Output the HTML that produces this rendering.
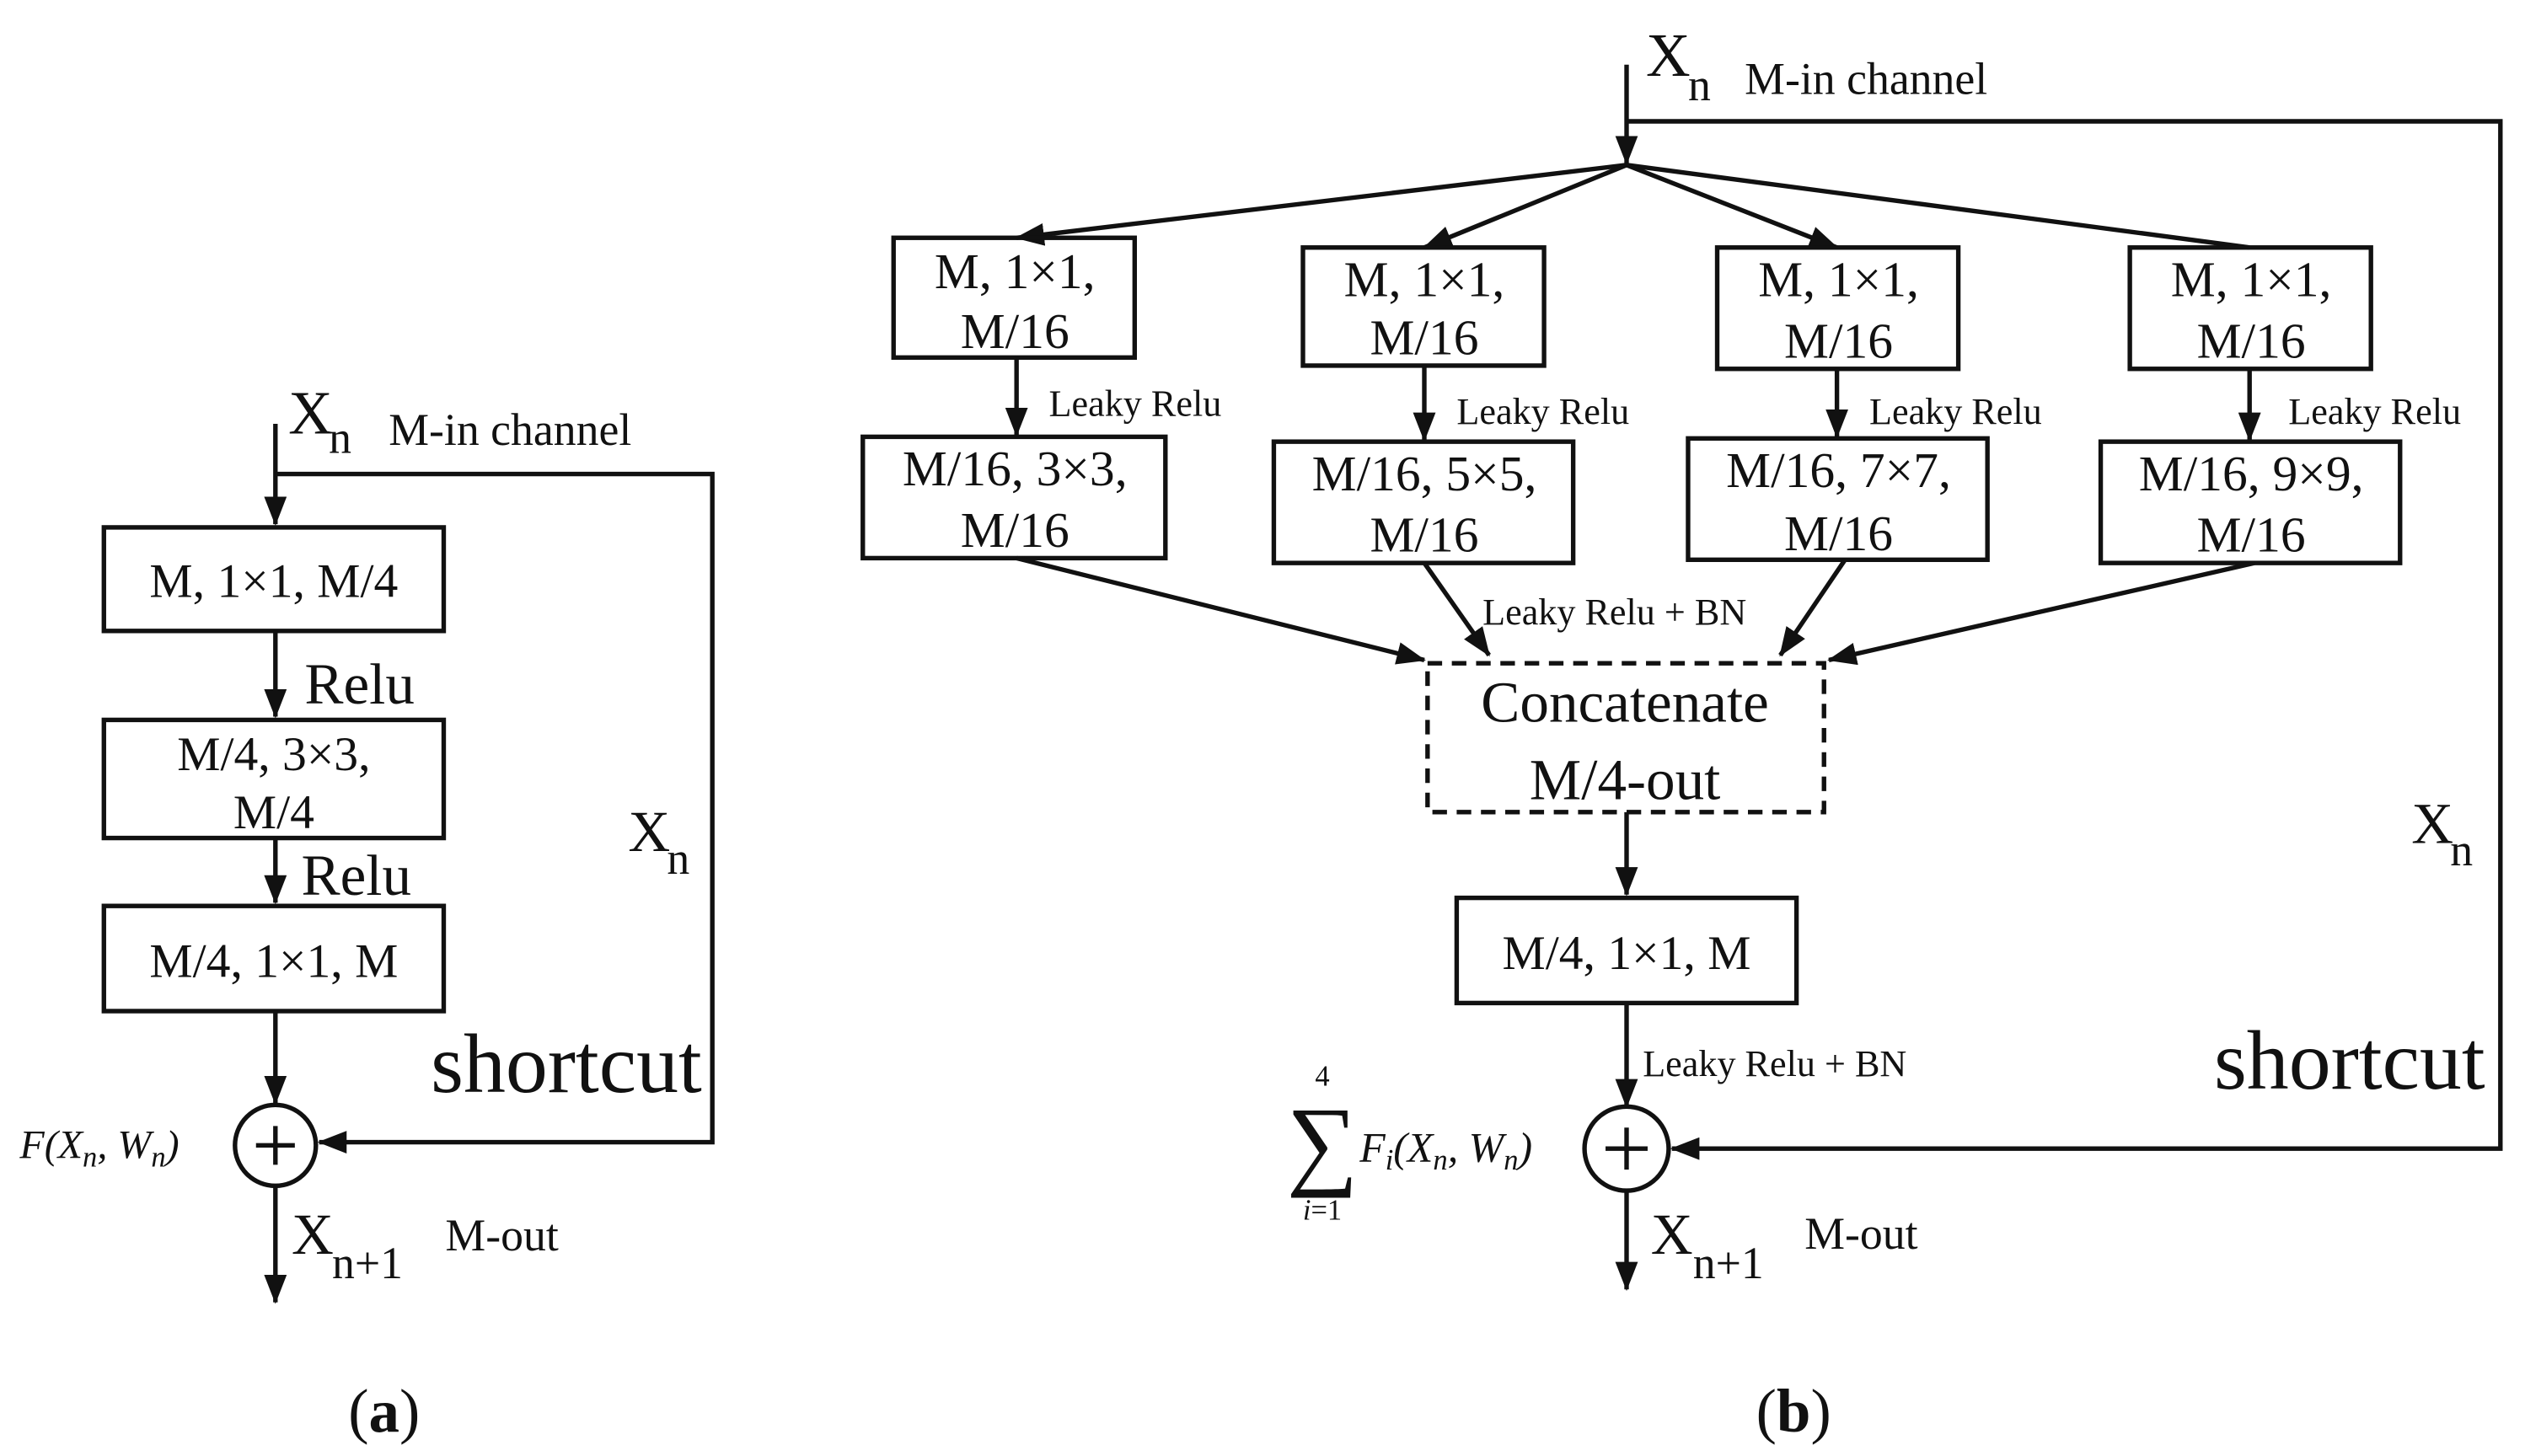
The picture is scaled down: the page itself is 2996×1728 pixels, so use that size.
<!DOCTYPE html>
<html><head><meta charset="utf-8"><style>
html,body{margin:0;padding:0;background:#fff;width:2996px;height:1728px;overflow:hidden}
svg{display:block}
text{font-family:"Liberation Serif","Times New Roman","DejaVu Serif",serif;fill:#111}
</style></head><body>
<svg width="2996" height="1728" viewBox="0 0 1560 900" xmlns="http://www.w3.org/2000/svg" font-family="Liberation Serif, Times New Roman, serif">
<defs>
<marker id="b" markerWidth="18" markerHeight="14" refX="17" refY="7" orient="auto" markerUnits="userSpaceOnUse" viewBox="0 0 18 14">
<path d="M0,0 L18,7 L0,14 z" fill="#111"/></marker>
</defs>
<g stroke="#111" stroke-width="2.8" fill="none">
<!-- panel a -->
<line x1="170" y1="262" x2="170" y2="324" marker-end="url(#b)"/>
<polyline points="170,293 440,293 440,706 197,706" marker-end="url(#b)"/>
<rect x="64" y="326" width="210" height="64"/>
<line x1="170" y1="390" x2="170" y2="443" marker-end="url(#b)"/>
<rect x="64" y="445" width="210" height="73"/>
<line x1="170" y1="518" x2="170" y2="558" marker-end="url(#b)"/>
<rect x="64" y="560" width="210" height="65"/>
<line x1="170" y1="625" x2="170" y2="682" marker-end="url(#b)"/>
<circle cx="170" cy="708" r="25"/>
<line x1="158" y1="708" x2="182" y2="708"/><line x1="170" y1="696" x2="170" y2="720"/>
<line x1="170" y1="733" x2="170" y2="805" marker-end="url(#b)"/>
<!-- panel b -->
<line x1="1005" y1="40" x2="1005" y2="101" marker-end="url(#b)"/>
<polyline points="1005,75 1545,75 1545,710 1033,710" marker-end="url(#b)"/>
<line x1="1005" y1="102" x2="628" y2="147" marker-end="url(#b)"/>
<line x1="1005" y1="102" x2="880" y2="153" marker-end="url(#b)"/>
<line x1="1005" y1="102" x2="1135" y2="153" marker-end="url(#b)"/>
<line x1="1005" y1="102" x2="1390" y2="153"/>
<rect x="552" y="147" width="149" height="74"/>
<rect x="805" y="153" width="149" height="73"/>
<rect x="1061" y="153" width="149" height="75"/>
<rect x="1316" y="153" width="149" height="75"/>
<line x1="628" y1="221" x2="628" y2="269" marker-end="url(#b)"/>
<line x1="880" y1="226" x2="880" y2="272" marker-end="url(#b)"/>
<line x1="1135" y1="228" x2="1135" y2="270" marker-end="url(#b)"/>
<line x1="1390" y1="228" x2="1390" y2="272" marker-end="url(#b)"/>
<rect x="533" y="270" width="187" height="75"/>
<rect x="787" y="273" width="185" height="75"/>
<rect x="1043" y="271" width="185" height="75"/>
<rect x="1298" y="273" width="185" height="75"/>
<line x1="628" y1="345" x2="880" y2="408" marker-end="url(#b)"/>
<line x1="880" y1="348" x2="920" y2="405" marker-end="url(#b)"/>
<line x1="1140" y1="346" x2="1100" y2="405" marker-end="url(#b)"/>
<line x1="1393" y1="348" x2="1130" y2="408" marker-end="url(#b)"/>
<rect x="882" y="410" width="245" height="92" stroke-dasharray="9,6"/>
<line x1="1005" y1="502" x2="1005" y2="553" marker-end="url(#b)"/>
<rect x="900" y="555" width="210" height="65"/>
<line x1="1005" y1="620" x2="1005" y2="684" marker-end="url(#b)"/>
<circle cx="1005" cy="710" r="26"/>
<line x1="992" y1="710" x2="1018" y2="710"/><line x1="1005" y1="697" x2="1005" y2="723"/>
<line x1="1005" y1="736" x2="1005" y2="797" marker-end="url(#b)"/>
</g>
<!-- text panel a -->
<text x="178" y="268" font-size="38">X</text><text x="203" y="280" font-size="28">n</text>
<text x="240" y="275" font-size="28">M-in channel</text>
<text x="169" y="369" font-size="30" text-anchor="middle">M, 1×1, M/4</text>
<text x="188" y="435" font-size="36">Relu</text>
<text x="169" y="476" font-size="30" text-anchor="middle">M/4, 3×3,</text>
<text x="169" y="512" font-size="30" text-anchor="middle">M/4</text>
<text x="186" y="553" font-size="36">Relu</text>
<text x="169" y="604" font-size="30" text-anchor="middle">M/4, 1×1, M</text>
<text x="388" y="526" font-size="36">X</text><text x="412" y="540" font-size="28">n</text>
<text x="266" y="675" font-size="52">shortcut</text>
<text x="12" y="716" font-size="25" font-style="italic">F(X<tspan font-size="18" dy="5">n</tspan><tspan dy="-5">, W</tspan><tspan font-size="18" dy="5">n</tspan><tspan dy="-5">)</tspan></text>
<text x="180" y="775" font-size="36">X</text><text x="205" y="790" font-size="28">n+1</text>
<text x="275" y="773" font-size="28">M-out</text>
<text x="215" y="885" font-size="38">(<tspan font-weight="bold">a</tspan>)</text>
<!-- text panel b -->
<text x="1017" y="47" font-size="38">X</text><text x="1043" y="62" font-size="28">n</text>
<text x="1078" y="58" font-size="28">M-in channel</text>
<g font-size="31" text-anchor="middle">
<text x="627" y="178">M, 1×1,</text><text x="627" y="215">M/16</text>
<text x="880" y="183">M, 1×1,</text><text x="880" y="219">M/16</text>
<text x="1136" y="183">M, 1×1,</text><text x="1136" y="221">M/16</text>
<text x="1391" y="183">M, 1×1,</text><text x="1391" y="221">M/16</text>
<text x="627" y="300">M/16, 3×3,</text><text x="627" y="338">M/16</text>
<text x="880" y="303">M/16, 5×5,</text><text x="880" y="341">M/16</text>
<text x="1136" y="301">M/16, 7×7,</text><text x="1136" y="340">M/16</text>
<text x="1391" y="303">M/16, 9×9,</text><text x="1391" y="341">M/16</text>
</g>
<g font-size="23">
<text x="648" y="257">Leaky Relu</text>
<text x="900" y="262">Leaky Relu</text>
<text x="1155" y="262">Leaky Relu</text>
<text x="1414" y="262">Leaky Relu</text>
<text x="916" y="386">Leaky Relu + BN</text>
<text x="1015" y="665">Leaky Relu + BN</text>
</g>
<text x="1004" y="446" font-size="36" text-anchor="middle">Concatenate</text>
<text x="1004" y="494" font-size="36" text-anchor="middle">M/4-out</text>
<text x="1005" y="599" font-size="30" text-anchor="middle">M/4, 1×1, M</text>
<text x="817" y="671" font-size="18" text-anchor="middle">4</text>
<text x="817" y="727" font-size="62" text-anchor="middle">∑</text>
<text x="817" y="754" font-size="18" text-anchor="middle" font-style="italic">i<tspan font-style="normal">=1</tspan></text>
<text x="840" y="718" font-size="26" font-style="italic">F<tspan font-size="18" dy="5">i</tspan><tspan dy="-5">(X</tspan><tspan font-size="18" dy="5">n</tspan><tspan dy="-5">, W</tspan><tspan font-size="18" dy="5">n</tspan><tspan dy="-5">)</tspan></text>
<text x="1020" y="775" font-size="36">X</text><text x="1046" y="790" font-size="28">n+1</text>
<text x="1115" y="772" font-size="28">M-out</text>
<text x="1490" y="521" font-size="36">X</text><text x="1514" y="535" font-size="28">n</text>
<text x="1368" y="673" font-size="52">shortcut</text>
<text x="1085" y="885" font-size="38">(<tspan font-weight="bold">b</tspan>)</text>
</svg>
</body></html>
